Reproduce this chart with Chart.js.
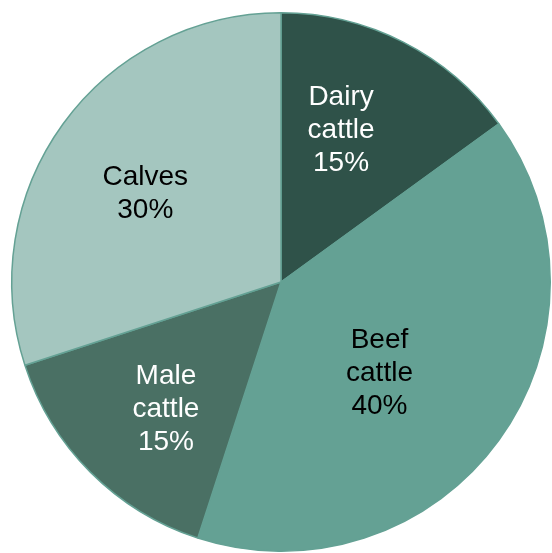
<!DOCTYPE html>
<html>
<head>
<meta charset="utf-8">
<script src="https://cdn.jsdelivr.net/npm/chart.js@4"></script>
<style>
  html, body { margin: 0; padding: 0; background: #ffffff; }
  #wrap { width: 552px; height: 553px; }
</style>
</head>
<body>
<div id="wrap"><canvas id="pie"></canvas></div>
<script>
// data
const categories = ['Dairy cattle', 'Beef cattle', 'Male cattle', 'Calves'];
const shares = [15, 40, 15, 30];
const sliceColors = ['#2f5249', '#64a194', '#4a7064', '#a4c6bf'];
const labelColors = ['#ffffff', '#000000', '#ffffff', '#000000'];
const labelLines = [['Dairy', 'cattle'], ['Beef', 'cattle'], ['Male', 'cattle'], ['Calves']];

// draws "name / pct" inside each slice, roughly where the original puts them
const sliceLabels = {
    id: 'sliceLabels',
    afterDatasetsDraw(chart, args, opts) {
        const ctx = chart.ctx;
        const arcs = chart.getDatasetMeta(0).data;
        const size = 28, lh = 33;
        const capH = size * 0.716;
        ctx.save();
        ctx.font = size + 'px "Liberation Sans", Arial, sans-serif';
        ctx.textAlign = 'center';
        ctx.textBaseline = 'alphabetic';
        arcs.forEach((arc, i) => {
            const p = arc.getProps(['x', 'y', 'startAngle', 'endAngle', 'outerRadius'], true);
            const mid = (p.startAngle + p.endAngle) / 2 + opts.angleNudge[i] * Math.PI / 180;
            const r = p.outerRadius * opts.radial[i];
            const cx = p.x + Math.cos(mid) * r;
            const cy = p.y + Math.sin(mid) * r;
            const lines = labelLines[i].concat([shares[i] + '%']);
            const firstBase = cy - (lines.length - 1) / 2 * lh + capH / 2;
            ctx.fillStyle = labelColors[i];
            lines.forEach((t, k) => {
                ctx.fillText(t, cx, firstBase + k * lh);
            });
        });
        ctx.restore();
    }
};

new Chart(document.getElementById('pie'), {
    type: 'pie',
    data: {
        labels: categories,
        datasets: [{
            data: shares,
            backgroundColor: sliceColors,
            borderColor: '#64a194',
            borderWidth: 1.5
        }]
    },
    options: {
        responsive: true,
        maintainAspectRatio: false,
        animation: false,
        layout: { padding: { left: 11, right: 1, top: 12, bottom: 1 } },
        plugins: {
            legend: { display: false },
            tooltip: { enabled: false },
            sliceLabels: {
                radial: [0.614, 0.493, 0.63, 0.606],
                angleNudge: [-5.7, 6.1, -2.3, -2.3]
            }
        }
    },
    plugins: [sliceLabels]
});
</script>
</body>
</html>
